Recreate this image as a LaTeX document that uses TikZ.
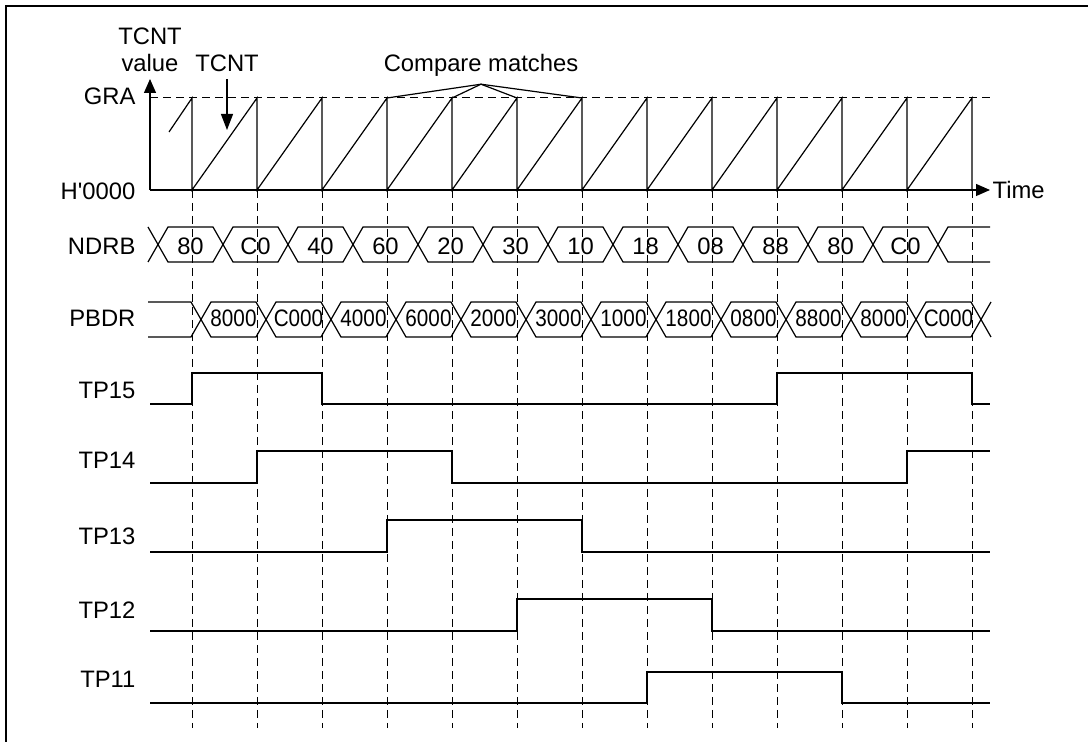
\documentclass[tikz,border=0pt]{standalone}
\usepackage{fontspec}
\setmainfont{Liberation Sans}[Ligatures=TeXOff]
\usetikzlibrary{arrows.meta}

\begin{document}
\begin{tikzpicture}[x=0.5pt, y=-0.5pt, line width=0.6pt,
  font=\fontsize{11.9}{13.5}\selectfont,
  lbl/.style={anchor=base east, inner sep=0pt},
  val/.style={anchor=base, inner sep=0pt},
  grid/.style={dash pattern=on 4pt off 2.5pt, line width=0.5pt},
  tip/.style={-{Triangle[length=7pt,width=6pt]}}]
  \useasboundingbox (0,0) rectangle (1088,742);
  \draw (1088,6) -- (6,6) -- (6,742);

  % time grid
  \foreach \k in {0,...,12}
    \draw[grid] ({192+65*\k},190) -- ({192+65*\k},728);

  % counter
  \draw[tip] (150,190) -- (150,79);
  \draw[tip] (150,190) -- (990,190);
  \draw[grid] (150,98) -- (992,98);
  \draw (169,132) -- (192,98) -- (192,190)
    \foreach \k in {1,...,12} { -- ++(65,-92) -- ++(0,92) };

  \node[anchor=base, align=center] (yname) at (150,72) {TCNT\\value};
  \node[lbl] (gra) at (136,105) {GRA};
  \node[lbl] (zero) at (136,200) {H'0000};
  \node[anchor=base west, inner sep=1pt] (time) at (990,199) {Time};

  \node[anchor=base] (tcnt) at (227,72) {TCNT};
  \coordinate (ramp) at (227,130);
  \draw[-{Triangle[length=8pt,width=6pt]}] (tcnt.south) -- (ramp);

  \node[anchor=base] (cm) at (481,72) {Compare matches};
  \foreach \x [count=\i] in {387,452,517,582} {
    \coordinate (m\i) at (\x,98);
    \draw (cm.south) -- (m\i);
  }

  % NDRB
  \node[lbl] (ndrb) at (136,255) {NDRB};
  \draw (148,227) -- (158,244.5) -- (148,262);
  \foreach \v [count=\k from 0] in {80,C0,40,60,20,30,10,18,08,88,80,C0} {
    \pgfmathsetmacro{\t}{158+65*\k}
    \pgfmathsetmacro{\u}{\t+65}
    \draw (\t,244.5) -- (\t+10,227) -- (\u-10,227) -- (\u,244.5)
      -- (\u-10,262) -- (\t+10,262) -- cycle;
    \node[val] (nd\k) at ({(\t+\u)/2},255) {\v};
  }
  \draw (938,244.5) -- (948,227) -- (990,227);
  \draw (938,244.5) -- (948,262) -- (990,262);

  % PBDR
  \node[lbl] (pbdr) at (136,327) {PBDR};
  \draw (148,302) -- (191,302) -- (201,319.5) -- (191,337) -- (148,337);
  \foreach \v [count=\k from 0] in {8000,C000,4000,6000,2000,3000,1000,1800,0800,8800,8000,C000} {
    \pgfmathsetmacro{\t}{201+65*\k}
    \pgfmathsetmacro{\u}{\t+65}
    \draw (\t,319.5) -- (\t+10,302) -- (\u-10,302) -- (\u,319.5)
      -- (\u-10,337) -- (\t+10,337) -- cycle;
    \node[val] (pb\k) at ({(\t+\u)/2},327) {\scalebox{0.87}[1]{\v}};
  }
  \draw (991,302) -- (981,319.5) -- (991,337);

  % outputs
  \node[lbl] (tp15) at (136,399) {TP15};
  \draw (150,404) -- (192,404) -- (192,373) -- (322,373) -- (322,404)
    -- (777,404) -- (777,373) -- (972,373) -- (972,404) -- (990,404);
  \node[lbl] (tp14) at (136,469) {TP14};
  \draw (150,483) -- (257,483) -- (257,451) -- (452,451) -- (452,483)
    -- (907,483) -- (907,451) -- (990,451);
  \node[lbl] (tp13) at (136,545) {TP13};
  \draw (150,552) -- (387,552) -- (387,520) -- (582,520) -- (582,552) -- (990,552);
  \node[lbl] (tp12) at (136,619) {TP12};
  \draw (150,631) -- (517,631) -- (517,599) -- (712,599) -- (712,631) -- (990,631);
  \node[lbl] (tp11) at (136,688) {TP11};
  \draw (150,703) -- (647,703) -- (647,672) -- (842,672) -- (842,703) -- (990,703);
\end{tikzpicture}
\end{document}
